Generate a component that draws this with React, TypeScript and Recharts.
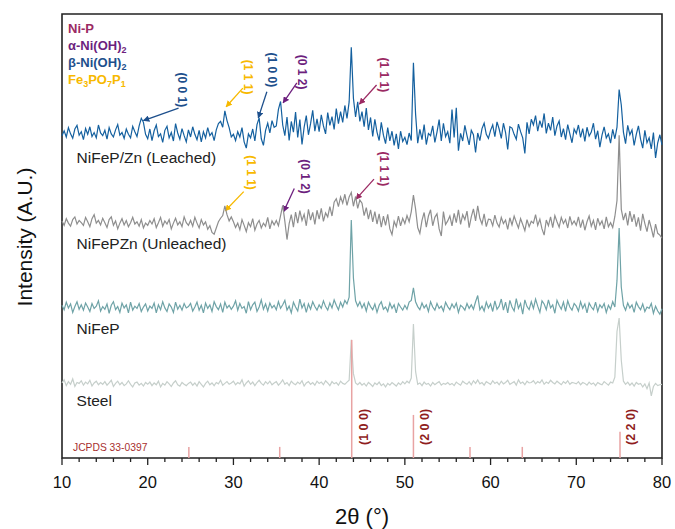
import { LineChart, Line, XAxis, YAxis, ReferenceLine, ReferenceArea, Customized } from 'recharts';

const START = 10;
const STEP = 0.25;

// NiFeP/Zn (Leached)
const leached = [
  72.6, 73.7, 72.3, 74.4, 73.0, 72.0, 74.1, 74.9, 72.7, 73.5, 71.7, 74.2, 72.9, 74.6, 72.4, 73.3, 72.1, 75.0, 73.2, 72.6,
  73.8, 71.8, 74.4, 73.0, 72.3, 73.9, 75.1, 72.7, 73.3, 72.0, 74.1, 72.9, 72.1, 74.7, 73.5, 72.4, 74.8, 76.5, 75.6, 72.9,
  71.9, 74.1, 71.5, 73.7, 75.0, 72.4, 73.0, 71.1, 73.8, 74.7, 72.1, 73.3, 71.4, 75.3, 73.2, 71.8, 74.2, 72.6, 71.2, 73.9,
  72.3, 74.6, 72.9, 71.7, 73.8, 71.2, 73.5, 72.1, 74.4, 72.6, 73.3, 71.5, 73.9, 75.3, 75.8, 74.5, 78.2, 76.0, 74.4, 72.3,
  72.9, 71.5, 73.5, 72.3, 74.4, 71.2, 69.8, 73.0, 72.1, 74.1, 71.4, 75.1, 76.6, 71.9, 70.4, 73.8, 75.4, 73.2, 76.0, 74.5,
  74.8, 78.5, 80.3, 75.0, 72.6, 76.8, 71.5, 75.8, 73.4, 77.9, 72.2, 76.2, 70.6, 74.5, 77.1, 72.8, 75.3, 78.3, 73.6, 76.4,
  73.5, 77.3, 74.8, 73.0, 77.8, 74.9, 76.9, 74.0, 78.7, 75.3, 78.0, 75.6, 79.4, 76.5, 80.2, 92.5, 81.0, 76.8, 80.2, 75.8,
  78.0, 74.6, 78.8, 73.9, 76.7, 72.4, 76.3, 73.4, 71.5, 75.6, 72.7, 70.8, 74.4, 71.4, 73.6, 70.4, 73.0, 69.6, 73.6, 71.3,
  72.2, 70.6, 73.2, 71.5, 89.0, 77.5, 70.9, 74.0, 71.7, 75.1, 70.6, 73.1, 72.6, 74.8, 71.1, 73.4, 76.2, 71.4, 75.4, 72.4,
  73.5, 70.9, 78.5, 72.2, 78.9, 69.2, 73.1, 71.4, 74.9, 72.6, 70.5, 73.8, 72.8, 68.8, 73.2, 71.5, 74.2, 75.4, 72.9, 72.0,
  73.8, 75.0, 72.4, 75.7, 74.1, 72.0, 75.4, 73.3, 69.5, 74.6, 74.3, 72.9, 71.8, 75.2, 73.5, 72.1, 68.6, 75.6, 73.0, 76.3,
  75.0, 77.1, 73.6, 76.0, 74.4, 77.6, 73.1, 75.4, 73.8, 76.8, 72.6, 74.8, 75.9, 72.3, 74.2, 71.7, 75.1, 73.0, 71.0, 74.1,
  73.1, 75.0, 72.2, 74.2, 71.3, 74.5, 72.5, 73.4, 75.4, 71.8, 73.7, 70.0, 72.7, 74.6, 72.1, 73.0, 70.9, 74.0, 71.9, 74.5,
  83.0, 79.5, 73.4, 70.8, 74.9, 72.8, 73.9, 70.4, 72.9, 74.8, 71.8, 69.8, 73.8, 71.0, 72.1, 69.6, 73.3, 67.6, 71.0, 72.8,
  70.5,
];

// NiFePZn (Unleached)
const unleached = [
  53.4, 52.4, 53.9, 52.9, 52.2, 53.7, 54.3, 52.7, 53.5, 53.0, 52.4, 54.2, 53.2, 52.1, 53.9, 54.8, 52.9, 53.5, 52.5, 54.0,
  53.0, 51.9, 53.7, 54.3, 52.4, 53.4, 51.6, 52.9, 53.9, 52.5, 53.5, 52.1, 53.0, 54.2, 52.7, 53.2, 52.2, 53.7, 51.8, 52.9,
  52.4, 53.5, 52.7, 53.9, 51.9, 53.0, 54.2, 52.2, 53.4, 52.7, 53.7, 51.6, 52.9, 54.0, 52.5, 53.2, 52.1, 54.3, 53.0, 52.4,
  53.5, 52.2, 54.2, 52.9, 51.8, 53.7, 52.5, 53.2, 51.5, 52.3, 50.8, 50.4, 51.8, 53.2, 54.0, 54.6, 56.8, 54.8, 53.4, 54.3,
  53.2, 51.9, 52.9, 51.4, 53.7, 52.4, 51.0, 53.0, 52.1, 53.9, 51.3, 52.7, 53.5, 51.8, 52.9, 52.2, 54.2, 51.6, 53.4, 52.5,
  53.5, 52.3, 54.6, 56.9, 53.3, 49.2, 52.8, 54.8, 52.0, 55.4, 52.9, 55.7, 53.5, 54.9, 52.3, 56.0, 53.6, 55.3, 52.6, 55.8,
  53.8, 56.2, 53.3, 55.2, 54.3, 56.6, 54.5, 57.6, 58.4, 56.6, 58.8, 57.4, 59.4, 56.9, 58.8, 59.8, 56.7, 58.9, 56.2, 58.1,
  57.4, 54.6, 56.4, 53.8, 55.9, 53.2, 55.5, 52.7, 55.0, 52.0, 54.5, 52.4, 54.9, 51.6, 50.3, 53.3, 52.1, 54.5, 52.3, 54.0,
  52.8, 54.6, 53.2, 55.5, 59.2, 56.1, 51.9, 50.6, 53.5, 55.3, 52.0, 54.5, 55.9, 52.3, 54.2, 55.0, 51.6, 50.0, 55.5, 52.6,
  53.4, 54.5, 52.3, 55.1, 53.0, 55.9, 52.6, 54.8, 53.7, 55.6, 51.9, 54.3, 56.1, 53.4, 56.8, 54.0, 52.7, 55.0, 52.1, 53.8,
  53.7, 52.3, 54.7, 52.9, 52.0, 54.2, 52.8, 53.6, 51.5, 54.1, 52.5, 54.5, 53.1, 51.8, 53.9, 52.6, 51.2, 53.7, 52.1, 53.3,
  52.9, 54.8, 52.4, 53.8, 51.6, 50.2, 53.6, 52.3, 54.3, 51.9, 54.6, 53.2, 52.0, 54.2, 52.8, 53.7, 51.8, 54.4, 52.6, 53.4,
  52.4, 54.3, 51.9, 53.7, 51.3, 53.2, 54.5, 52.2, 53.5, 51.4, 54.0, 52.5, 53.4, 51.6, 54.3, 52.1, 53.0, 51.9, 54.4, 58.0,
  72.7, 56.0, 53.6, 55.2, 52.4, 55.6, 53.2, 54.9, 52.1, 54.2, 51.2, 55.0, 52.8, 51.0, 53.6, 51.8, 49.7, 52.7, 50.6, 50.2,
  49.5,
];

// NiFeP
const nifep = [
  34.4, 33.4, 35.1, 33.8, 34.7, 32.8, 34.1, 35.2, 33.5, 34.5, 33.3, 34.9, 34.0, 33.0, 34.8, 33.7, 34.2, 35.4, 33.1, 34.1,
  33.5, 34.7, 32.6, 34.4, 35.2, 33.4, 34.1, 32.8, 34.9, 33.8, 34.5, 32.7, 35.1, 33.3, 34.2, 33.7, 34.8, 33.0, 34.0, 34.7,
  33.1, 34.2, 33.7, 34.9, 32.7, 34.5, 33.4, 35.2, 33.8, 33.0, 34.7, 34.0, 32.8, 35.1, 33.5, 34.4, 33.3, 34.8, 33.8, 34.1,
  34.8, 33.1, 34.0, 35.1, 33.3, 34.4, 32.7, 34.9, 33.7, 34.5, 33.0, 35.2, 34.1, 33.4, 34.7, 32.8, 35.1, 33.8, 34.4, 33.5,
  34.2, 35.4, 33.3, 34.8, 33.7, 34.1, 32.6, 35.2, 33.4, 34.5, 35.1, 33.0, 34.0, 35.6, 33.5, 34.7, 33.1, 34.9, 33.8, 34.4,
  33.4, 35.2, 33.7, 34.5, 35.5, 33.3, 34.2, 32.7, 35.1, 34.0, 33.1, 35.8, 33.8, 34.8, 32.8, 34.7, 33.5, 35.2, 34.1, 33.3,
  34.5, 33.7, 35.4, 34.1, 33.3, 34.9, 33.8, 35.6, 34.4, 33.4, 35.1, 34.0, 35.5, 34.7, 36.2, 53.6, 40.5, 35.4, 34.2, 35.2,
  33.8, 34.8, 33.1, 35.1, 34.1, 33.4, 34.7, 32.8, 34.4, 35.2, 33.5, 34.0, 33.0, 34.9, 33.7, 34.5, 32.7, 34.8, 34.0, 33.3,
  34.4, 33.5, 35.1, 35.5, 38.3, 35.2, 34.1, 33.4, 34.9, 33.8, 34.5, 33.0, 35.2, 34.0, 33.3, 34.8, 33.7, 34.2, 33.1, 35.1,
  34.1, 33.4, 34.7, 33.8, 34.9, 32.8, 34.4, 34.0, 33.3, 34.8, 33.7, 34.5, 33.5, 35.2, 36.6, 33.4, 34.2, 33.1, 35.1, 33.8,
  34.7, 33.0, 35.4, 33.5, 34.2, 35.8, 33.3, 35.1, 32.7, 35.5, 34.0, 33.1, 35.9, 33.7, 34.8, 32.4, 35.6, 34.1, 33.4, 35.2,
  33.7, 35.8, 34.2, 32.8, 35.4, 34.7, 33.4, 35.6, 33.8, 34.5, 32.6, 35.5, 34.4, 33.5, 35.1, 33.0, 35.4, 34.0, 33.3, 34.8,
  34.2, 33.1, 35.2, 33.7, 34.7, 32.7, 34.9, 34.0, 33.4, 35.1, 33.0, 34.5, 33.8, 34.8, 32.8, 34.4, 33.5, 35.2, 34.0, 40.0,
  51.8, 38.5, 34.4, 33.3, 34.9, 33.8, 34.5, 32.8, 35.1, 34.1, 33.4, 34.7, 33.0, 34.0, 33.7, 34.8, 32.6, 34.2, 33.1, 32.4,
  33.6,
];

// Steel
const steel = [
  16.9, 17.6, 16.3, 17.2, 16.6, 17.8, 16.1, 17.0, 16.8, 17.4, 16.4, 17.1, 16.7, 17.5, 16.2, 16.9, 17.3, 16.5, 17.0, 16.6,
  17.2, 16.4, 16.9, 17.5, 16.1, 16.8, 17.3, 16.5, 17.0, 16.3, 16.7, 17.4, 16.6, 16.0, 16.9, 17.1, 16.4, 16.8, 16.2, 17.0,
  16.6, 17.1, 16.3, 16.9, 16.5, 17.3, 16.0, 16.8, 16.4, 17.2, 16.7, 16.1, 16.9, 17.4, 16.5, 16.2, 17.0, 16.6, 16.3, 16.8,
  17.1, 16.4, 16.9, 16.2, 17.2, 16.6, 16.0, 16.8, 17.3, 16.5, 16.9, 16.3, 17.0, 16.7, 17.5, 16.4, 16.8, 17.2, 16.6, 16.9,
  17.3, 16.5, 17.0, 16.7, 17.6, 16.2, 16.9, 17.4, 16.6, 17.1, 16.3, 17.0, 17.5, 16.8, 16.4, 17.2, 16.7, 17.3, 16.5, 16.9,
  17.2, 16.4, 16.9, 17.6, 16.6, 17.0, 16.3, 17.3, 16.8, 16.5, 17.1, 16.7, 17.4, 16.2, 16.9, 17.2, 16.6, 17.0, 16.4, 17.3,
  16.8, 17.1, 16.5, 17.4, 16.9, 16.3, 17.2, 16.7, 17.0, 16.4, 17.3, 16.8, 16.6, 17.1, 17.5, 26.6, 19.0, 16.9, 16.5, 17.0,
  16.4, 16.8, 16.2, 17.0, 16.6, 16.1, 16.9, 16.5, 17.1, 16.3, 16.7, 16.0, 16.8, 16.4, 17.0, 16.6, 16.2, 16.9, 16.5, 17.2,
  16.7, 17.3, 16.9, 18.0, 30.2, 19.5, 16.6, 16.9, 16.3, 17.1, 16.6, 16.8, 16.2, 17.0, 16.5, 16.9, 17.2, 16.4, 16.8, 16.6,
  17.0, 16.5, 16.8, 16.3, 17.1, 16.7, 16.4, 17.3, 16.9, 16.6, 17.2, 16.5, 17.4, 16.8, 17.6, 16.7, 17.0, 16.4, 17.2, 16.9,
  16.6, 17.4, 16.8, 17.1, 16.5, 17.3, 16.7, 17.0, 17.5, 16.6, 16.9, 17.2, 16.4, 17.6, 16.8, 17.1, 16.5, 17.3, 16.9, 17.0,
  17.4, 16.7, 17.2, 16.9, 17.6, 16.6, 17.1, 16.8, 17.5, 17.0, 16.7, 17.3, 16.9, 16.5, 17.2, 16.8, 17.4, 16.6, 17.0, 16.9,
  16.7, 17.2, 16.5, 17.0, 16.8, 16.4, 17.1, 16.6, 16.9, 16.3, 17.0, 16.7, 16.5, 17.2, 16.8, 16.4, 17.1, 16.9, 18.2, 28.5,
  31.5, 22.0, 17.3, 16.6, 17.1, 16.4, 16.9, 16.2, 17.0, 16.6, 16.8, 16.0, 16.7, 15.6, 16.9, 14.0, 16.1, 16.8, 16.3, 16.5,
  16.6,
];

// JCPDS 33-0397 reference pattern
const refPositions = [24.8, 35.4, 43.8, 51.0, 57.6, 63.7, 75.1];
const refHeights = [2.5, 2.5, 26.6, 9.7, 2.5, 2.5, 5.9];

const minorTicks = [
  10, 12, 14, 16, 18, 20, 22, 24, 26, 28, 30, 32, 34, 36, 38, 40, 42, 44, 46, 48, 50,
  52, 54, 56, 58, 60, 62, 64, 66, 68, 70, 72, 74, 76, 78, 80,
];

const NIP = '#9b2a63';
const ALPHA = '#6d1f7e';
const BETA = '#1d4f8c';
const FE = '#f7b900';
const REF = '#8f1d1d';

// arrows: tip points at the reflection, tail/text sit above it (data units)
const notes = [
  { hkl: '(0 0 1)', color: BETA, tip: [19.5, 76.0], tail: [23.6, 78.8], text: [24.0, 82.9] },
  { hkl: '(1 1 1)', color: FE, tip: [29.15, 79.1], tail: [31.1, 83.3], text: [31.7, 85.8] },
  { hkl: '(1 0 0)', color: BETA, tip: [32.9, 76.6], tail: [33.9, 82.5], text: [34.5, 87.4] },
  { hkl: '(0 1 2)', color: ALPHA, tip: [35.8, 80.0], tail: [37.4, 84.5], text: [38.0, 86.9] },
  { hkl: '(1 1 1)', color: NIP, tip: [44.7, 79.7], tail: [46.7, 84.0], text: [47.6, 86.3] },
  { hkl: '(1 1 1)', color: FE, tip: [29.05, 55.7], tail: [31.2, 60.0], text: [32.0, 64.3] },
  { hkl: '(0 1 2)', color: ALPHA, tip: [35.86, 55.5], tail: [37.1, 60.7], text: [38.3, 63.4] },
  { hkl: '(1 1 1)', color: NIP, tip: [44.3, 58.3], tail: [46.4, 62.8], text: [47.6, 65.1] },
];
const refNotes = [
  { hkl: '(1 0 0)', at: [45.2, 7.0] },
  { hkl: '(2 0 0)', at: [52.3, 7.0] },
  { hkl: '(2 2 0)', at: [76.4, 7.0] },
];
const seriesLabels = [
  { name: 'NiFeP/Zn (Leached)', at: [11.7, 66.5] },
  { name: 'NiFePZn (Unleached)', at: [11.7, 47.0] },
  { name: 'NiFeP', at: [11.7, 28.0] },
  { name: 'Steel', at: [11.7, 11.8] },
];

const data = leached.map((v, i) => ({
  x: START + i * STEP,
  leached: v,
  unleached: unleached[i],
  nifep: nifep[i],
  steel: steel[i],
}));

const W = 675;
const H = 529;
const margin = { top: 14, right: 13, bottom: 41, left: 62 };
const AXIS_H = 30;
const plotL = margin.left;
const plotR = W - margin.right;
const plotT = margin.top;
const plotB = H - margin.bottom - AXIS_H;
const px = (x: number) => plotL + ((x - 10) / 70) * (plotR - plotL);
const py = (y: number) => plotB - (y / 100) * (plotB - plotT);

const FONT = 'Arial, "Liberation Sans", Helvetica, sans-serif';

function AxisTick(props: any) {
  const { x, y, payload } = props;
  const major = payload.value % 10 === 0;
  return (
    <g>
      <line x1={x} y1={y} x2={x} y2={y + (major ? 7 : 4)} stroke="#222" strokeWidth={1.3} />
      {major && (
        <text x={x} y={y + 30} textAnchor="middle" fontSize={16.5} fill="#111" fontFamily={FONT}>
          {payload.value}
        </text>
      )}
    </g>
  );
}

function Overlay() {
  const colors = [NIP, ALPHA, BETA, FE];
  return (
    <g fontFamily={FONT}>
      <defs>
        {colors.map((c, i) => (
          <marker key={i} id={`ah${i}`} viewBox="0 0 10 10" refX="9" refY="5" markerWidth="5" markerHeight="5" orient="auto">
            <path d="M0,0 L10,5 L0,10 z" fill={c} />
          </marker>
        ))}
      </defs>
      {notes.map((n, i) => {
        const cx = px(n.text[0]);
        const cy = py(n.text[1]);
        return (
          <g key={i}>
            <line
              x1={px(n.tail[0])}
              y1={py(n.tail[1])}
              x2={px(n.tip[0])}
              y2={py(n.tip[1])}
              stroke={n.color}
              strokeWidth={1.3}
              markerEnd={`url(#ah${colors.indexOf(n.color)})`}
            />
            <text
              x={cx}
              y={cy}
              transform={`rotate(90 ${cx} ${cy})`}
              textAnchor="middle"
              dominantBaseline="central"
              fontSize={12}
              fontWeight="bold"
              fill={n.color}
            >
              {n.hkl}
            </text>
          </g>
        );
      })}
      {refNotes.map((n, i) => {
        const cx = px(n.at[0]);
        const cy = py(n.at[1]);
        return (
          <text
            key={i}
            x={cx}
            y={cy}
            transform={`rotate(-90 ${cx} ${cy})`}
            textAnchor="middle"
            dominantBaseline="central"
            fontSize={12.5}
            fontWeight="bold"
            fill={REF}
          >
            {n.hkl}
          </text>
        );
      })}
      {seriesLabels.map((s, i) => (
        <text key={i} x={px(s.at[0])} y={py(s.at[1])} fontSize={15.5} fill="#222">
          {s.name}
        </text>
      ))}
      <text x={73} y={451} fontSize={10.3} fill="#a83030">JCPDS 33-0397</text>
      <g fontSize={13} fontWeight="bold">
        <text x={68} y={33} fill={NIP}>Ni-P</text>
        <text x={68} y={49.5} fill={ALPHA}>
          α-Ni(OH)<tspan dy={3} fontSize={9}>2</tspan>
        </text>
        <text x={68} y={66.5} fill={BETA}>
          β-Ni(OH)<tspan dy={3} fontSize={9}>2</tspan>
        </text>
        <text x={68} y={84} fill={FE}>
          Fe<tspan dy={3} fontSize={9}>3</tspan>
          <tspan dy={-3}>PO</tspan>
          <tspan dy={3} fontSize={9}>7</tspan>
          <tspan dy={-3}>P</tspan>
          <tspan dy={3} fontSize={9}>1</tspan>
        </text>
      </g>
      <text
        x={24}
        y={237}
        transform="rotate(-90 24 237)"
        textAnchor="middle"
        dominantBaseline="central"
        fontSize={21}
        fill="#111"
      >
        Intensity (A.U.)
      </text>
      <text x={(plotL + plotR) / 2} y={524} textAnchor="middle" fontSize={22} fill="#111">
        2θ (°)
      </text>
    </g>
  );
}

export default function App() {
  return (
    <div style={{ position: 'absolute', left: 0, top: 0, background: '#fff' }}>
      <LineChart width={W} height={H} data={data} margin={margin}>
        <XAxis
          dataKey="x"
          type="number"
          domain={[10, 80]}
          ticks={minorTicks}
          interval={0}
          height={AXIS_H}
          axisLine={false}
          tickLine={false}
          tickSize={0}
          tickMargin={0}
          tick={<AxisTick />}
        />
        <YAxis hide domain={[0, 100]} type="number" />
        <Line dataKey="steel" stroke="#c6cfcb" strokeWidth={1.2} dot={false} isAnimationActive={false} />
        <Line dataKey="nifep" stroke="#6fa3a7" strokeWidth={1.2} dot={false} isAnimationActive={false} />
        <Line dataKey="unleached" stroke="#8e8e8e" strokeWidth={1.2} dot={false} isAnimationActive={false} />
        <Line dataKey="leached" stroke="#14609f" strokeWidth={1.2} dot={false} isAnimationActive={false} />
        {refPositions.map((p, i) => (
          <ReferenceLine
            key={i}
            segment={[{ x: p, y: 0 }, { x: p, y: refHeights[i] }]}
            stroke="#e8a3a3"
            strokeWidth={1.5}
          />
        ))}
        <ReferenceArea x1={10} x2={80} y1={0} y2={100} fill="none" stroke="#222" strokeWidth={1.6} />
        <Customized component={Overlay} />
      </LineChart>
    </div>
  );
}
